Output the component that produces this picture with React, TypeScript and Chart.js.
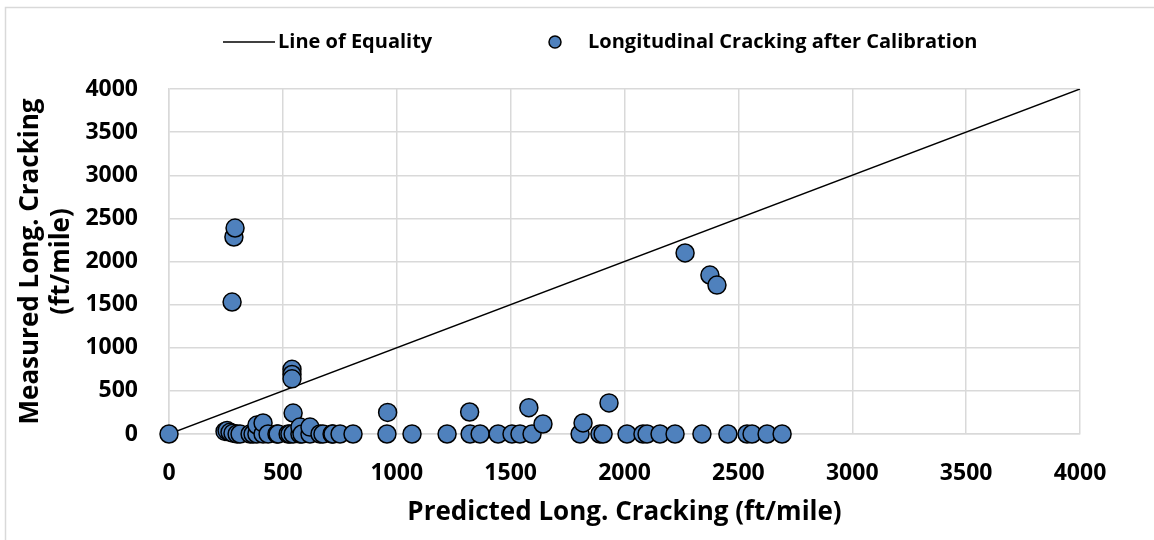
import React, { useEffect, useRef } from "react";
import { Chart, registerables } from "chart.js";

Chart.register(...registerables);

// Line of equality
const equalityX = [0, 4000];
const equalityY = [0, 4000];

// Longitudinal cracking after calibration: predicted (x) vs measured (y), ft/mile
const predicted = [
  0, 246, 255, 268, 281, 299, 312, 356, 369, 386, 386, 413, 413, 435, 474, 479,
  523, 531, 545, 545, 575, 575, 584, 619, 619, 663, 676, 716, 720, 751, 808,
  957, 960, 1067, 1221, 1320, 1322, 1366, 1445, 1506, 1541, 1580, 1594, 1642,
  1805, 1818, 1892, 1906, 1932, 2011, 2081, 2099, 2156, 2222, 2340, 2454, 2538,
  2560, 2626, 2692, 277, 285, 290, 540, 540, 540, 2266, 2375, 2406,
];
const measured = [
  0, 30, 40, 20, 10, 0, 0, 0, 0, 0, 104, 0, 128, 0, 0, 0,
  0, 0, 0, 243, 0, 80, 0, 0, 80, 0, 0, 0, 0, 0, 0,
  0, 250, 0, 0, 255, 0, 0, 0, 0, 0, 305, 0, 116,
  0, 128, 0, 0, 360, 0, 0, 0, 0, 0, 0, 0, 0,
  0, 0, 0, 1530, 2284, 2388, 750, 690, 640, 2099, 1843, 1727,
];

const axisMin = 0;
const axisMax = 4000;
const axisStep = 500;

const legendLabels = ["Line of Equality", "Longitudinal Cracking after Calibration"];
const xTitle = "Predicted Long. Cracking (ft/mile)";
const yTitle = ["Measured Long. Cracking", "(ft/mile)"];

const FONT = "'Open Sans', 'DejaVu Sans', sans-serif";
const BLUE = "#4F81BD";
const GRID = "#D9D9D9";

export default function App() {
  const ref = useRef<HTMLCanvasElement>(null);

  useEffect(() => {
    document.body.style.margin = "0";
    const canvas = ref.current!;

    const framePlugin = {
      id: "frame",
      beforeDraw(chart: any) {
        const { ctx } = chart;
        ctx.save();
        ctx.fillStyle = "#ffffff";
        ctx.fillRect(0, 0, chart.width, chart.height);
        ctx.strokeStyle = GRID;
        ctx.lineWidth = 1.5;
        ctx.strokeRect(5.5, 7.5, chart.width + 20, chart.height + 20);
        ctx.restore();
      },
    };

    const legendPlugin = {
      id: "customLegend",
      afterDraw(chart: any) {
        const { ctx } = chart;
        ctx.save();
        const y = 42;
        ctx.strokeStyle = "#000000";
        ctx.lineWidth = 1.5;
        ctx.beginPath();
        ctx.moveTo(223, y);
        ctx.lineTo(275, y);
        ctx.stroke();
        ctx.font = `bold 20px ${FONT}`;
        ctx.fillStyle = "#000000";
        ctx.textBaseline = "middle";
        ctx.textAlign = "left";
        ctx.fillText(legendLabels[0], 278, y);
        ctx.beginPath();
        ctx.arc(555, y, 6, 0, Math.PI * 2);
        ctx.fillStyle = BLUE;
        ctx.fill();
        ctx.lineWidth = 1.5;
        ctx.strokeStyle = "#000000";
        ctx.stroke();
        ctx.fillStyle = "#000000";
        ctx.fillText(legendLabels[1], 588, y);
        ctx.restore();
      },
    };

    const plainTick = (v: any) => String(v);

    const chart = new Chart(canvas, {
      type: "scatter",
      data: {
        datasets: [
          {
            label: legendLabels[1],
            data: predicted.map((x, i) => ({ x, y: measured[i] })),
            backgroundColor: BLUE,
            borderColor: "#000000",
            borderWidth: 1.5,
            pointRadius: 9,
            clip: false,
            order: 1,
          },
          {
            label: legendLabels[0],
            type: "line",
            data: equalityX.map((x, i) => ({ x, y: equalityY[i] })),
            borderColor: "#000000",
            borderWidth: 1.5,
            pointRadius: 0,
            fill: false,
            order: 2,
          } as any,
        ],
      },
      options: {
        responsive: false,
        animation: false,
        devicePixelRatio: 1,
        layout: { padding: { left: 0, right: 74, top: 89, bottom: 0 } },
        plugins: {
          legend: { display: false },
          tooltip: { enabled: false },
        },
        scales: {
          x: {
            type: "linear",
            min: axisMin,
            max: axisMax,
            ticks: {
              stepSize: axisStep,
              callback: plainTick,
              color: "#000000",
              font: { family: FONT, size: 23, weight: "bold" },
              padding: 26,
            },
            grid: { color: GRID, lineWidth: 1.5, drawTicks: false },
            border: { color: GRID, width: 1.5 },
            title: {
              display: true,
              text: xTitle,
              color: "#000000",
              font: { family: FONT, size: 26, weight: "bold" },
              padding: { top: 0, bottom: 12 },
            },
            afterFit(scale: any) {
              scale.height = 106;
            },
          },
          y: {
            type: "linear",
            min: axisMin,
            max: axisMax,
            ticks: {
              stepSize: axisStep,
              callback: plainTick,
              color: "#000000",
              font: { family: FONT, size: 23, weight: "bold" },
              padding: 31,
            },
            grid: { color: GRID, lineWidth: 1.5, drawTicks: false },
            border: { color: GRID, width: 1.5 },
            title: {
              display: true,
              text: yTitle,
              color: "#000000",
              font: { family: FONT, size: 26, weight: "bold" },
              padding: { top: 15, bottom: 0 },
            },
            afterFit(scale: any) {
              scale.width = 169;
            },
          },
        },
      } as any,
      plugins: [framePlugin, legendPlugin],
    });

    return () => chart.destroy();
  }, []);

  return (
    <div style={{ width: 1154, height: 540 }}>
      <canvas ref={ref} width={1154} height={540} />
    </div>
  );
}
